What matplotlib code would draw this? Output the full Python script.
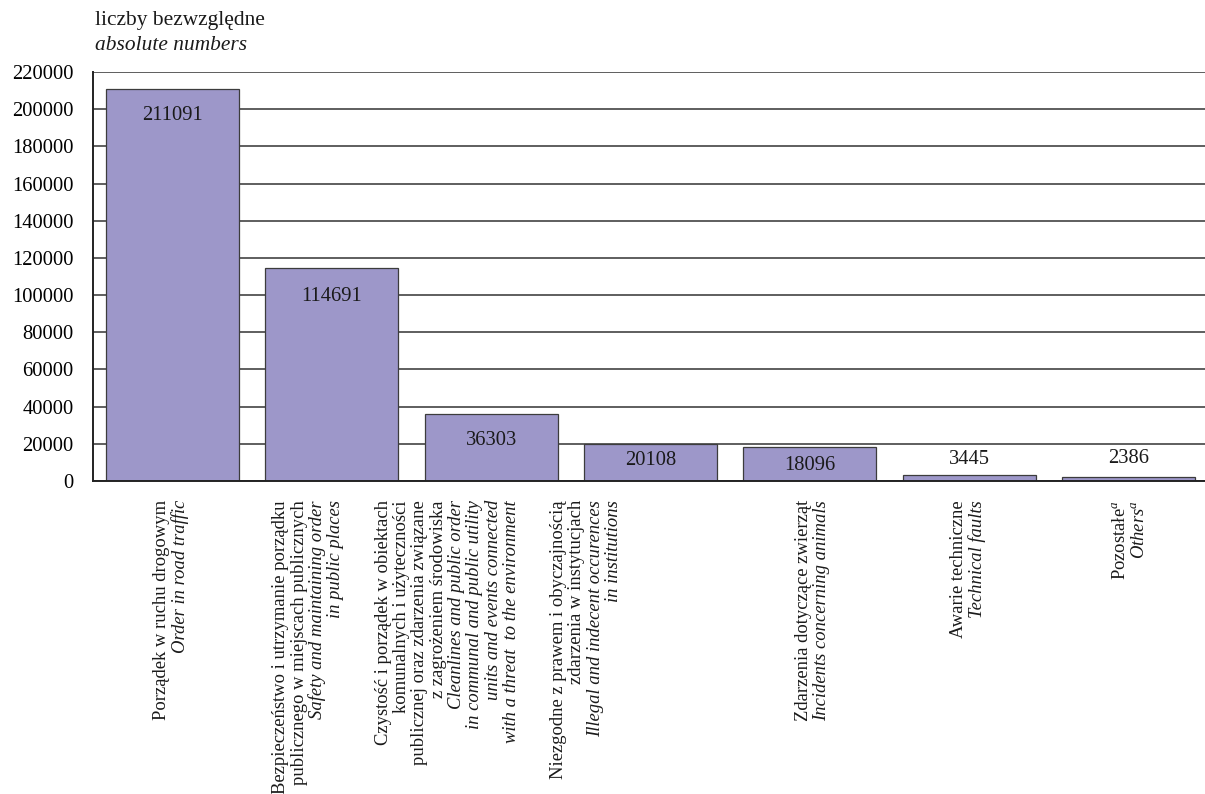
import numpy as np
import matplotlib
matplotlib.use('Agg')
import matplotlib.pyplot as plt

# data
values = [211091, 114691, 36303, 20108, 18096, 3445, 2386]
labels_pl = [
    ["Porządek w ruchu drogowym"],
    ["Bezpieczeństwo i utrzymanie porządku",
     "publicznego w miejscach publicznych"],
    ["Czystość i porządek w obiektach",
     "komunalnych i użyteczności",
     "publicznej oraz zdarzenia związane",
     "z zagrożeniem środowiska"],
    ["Niezgodne z prawem i obyczajnością",
     "zdarzenia w instytucjach"],
    ["Zdarzenia dotyczące zwierząt"],
    ["Awarie techniczne"],
    ["Pozostałe$^{a}$"],
]
labels_en = [
    ["Order in road traffic"],
    ["Safety and maintaining order", "in public places"],
    ["Cleanlines and public order",
     "in communal and public utility",
     "units and events connected",
     "with a threat  to the environment"],
    ["Illegal and indecent occurences", "in institutions"],
    ["Incidents concerning animals"],
    ["Technical faults"],
    ["Others$^{a}$"],
]
yticks = np.arange(0, 220001, 20000)

# layout (points)
val_offsets = [-19.2, -21.0, -19.2, -12.4, -13.1, 10.6, 12.8]
lbl_shift = [-1.5, -17.0, -31.5, -46.5, 1.8, -1.1, 1.1]
line_step = 13.2

plt.rcParams['font.family'] = ['Liberation Serif', 'DejaVu Serif']
plt.rcParams['mathtext.fontset'] = 'custom'
plt.rcParams['mathtext.rm'] = 'Liberation Serif'
plt.rcParams['mathtext.it'] = 'Liberation Serif:italic'

fig = plt.figure(figsize=(12.05, 7.94), dpi=100)
ax = fig.add_axes([0.0772, 0.3942, 0.9253, 0.5151])

x = np.arange(len(values))
ax.bar(x, values, width=0.835, color='#9d97c9', edgecolor='#3c3c3c',
       linewidth=0.9, zorder=2)

ax.set_xlim(-0.5, len(values) - 0.5)
ax.set_ylim(0, 220000)
ax.set_yticks(yticks)
ax.set_yticklabels([str(t) for t in yticks], fontsize=14.8)
ax.tick_params(axis='y', length=0, pad=14)
ax.set_xticks([])
ax.yaxis.grid(True, color='#333333', linewidth=1.1, zorder=1)
ax.set_axisbelow(True)
for s in ['top', 'right']:
    ax.spines[s].set_visible(False)
for s in ['left', 'bottom']:
    ax.spines[s].set_color('#222222')
    ax.spines[s].set_linewidth(1.4)

for i, v in enumerate(values):
    ax.annotate(str(v), xy=(i, v), xytext=(0, val_offsets[i]),
                textcoords='offset points', ha='center', va='center',
                fontsize=14.8, color='#1a1a1a')

# rotated category labels, one text per line
for i in range(len(values)):
    lines = [(t, 'normal') for t in labels_pl[i]] + \
            [(t, 'italic') for t in labels_en[i]]
    n = len(lines)
    for k, (t, st) in enumerate(lines):
        dx = lbl_shift[i] + (k - (n - 1) / 2) * line_step
        ax.annotate(t, xy=(i, 0), xycoords=('data', 'axes fraction'),
                    xytext=(dx, -13.7), textcoords='offset points',
                    rotation=90, ha='center', va='top', fontsize=13.4,
                    style=st, color='#1a1a1a', annotation_clip=False)

fig.text(95 / 1205, 1 - 20 / 794, "liczby bezwzględne", fontsize=15.4,
         ha='left', va='center', color='#1a1a1a')
fig.text(95 / 1205, 1 - 45 / 794, "absolute numbers", fontsize=15.4,
         style='italic', ha='left', va='center', color='#1a1a1a')

fig.savefig('out.png', dpi=100)
